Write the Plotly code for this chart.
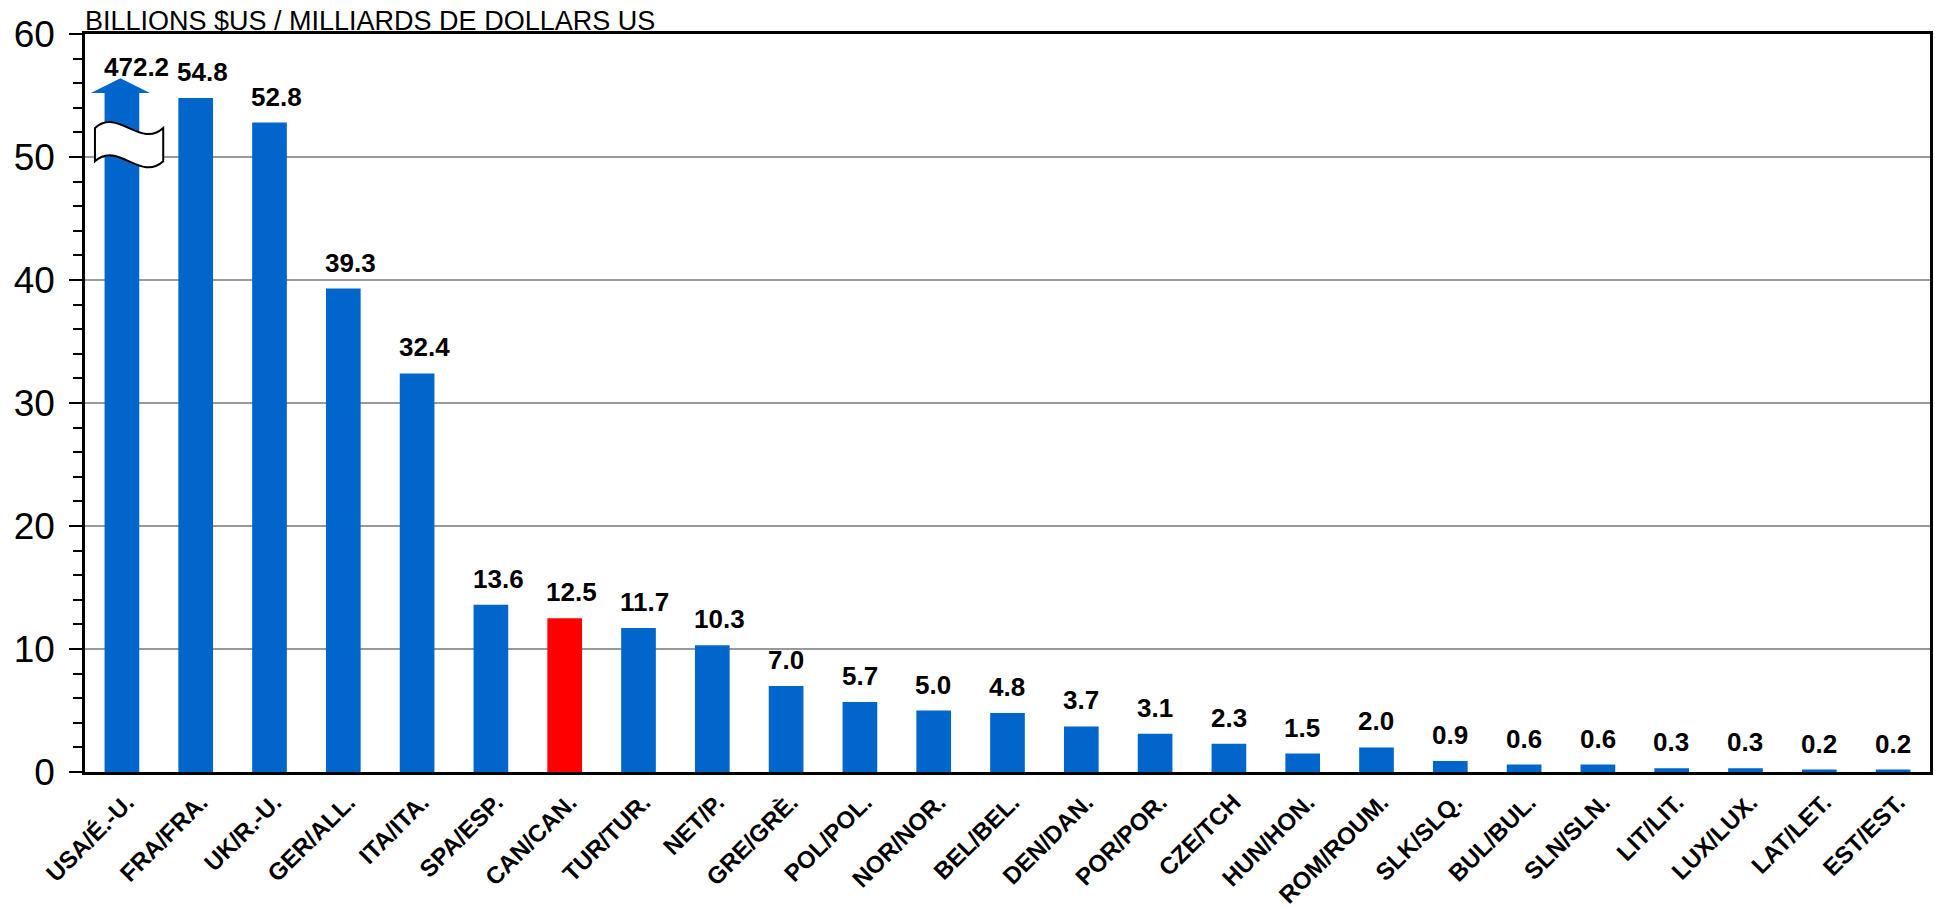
import plotly.graph_objects as go

# Country labels and values (billions of US dollars)
countries = ["USA/É.-U.", "FRA/FRA.", "UK/R.-U.", "GER/ALL.", "ITA/ITA.", "SPA/ESP.",
             "CAN/CAN.", "TUR/TUR.", "NET/P.", "GRE/GRÈ.", "POL/POL.", "NOR/NOR.",
             "BEL/BEL.", "DEN/DAN.", "POR/POR.", "CZE/TCH", "HUN/HON.", "ROM/ROUM.",
             "SLK/SLQ.", "BUL/BUL.", "SLN/SLN.", "LIT/LIT.", "LUX/LUX.", "LAT/LET.",
             "EST/EST."]
values = [472.2, 54.8, 52.8, 39.3, 32.4, 13.6, 12.5, 11.7, 10.3, 7.0, 5.7, 5.0,
          4.8, 3.7, 3.1, 2.3, 1.5, 2.0, 0.9, 0.6, 0.6, 0.3, 0.3, 0.2, 0.2]
highlight = "CAN/CAN."
y_ticks = [0, 10, 20, 30, 40, 50, 60]

AXIS_MAX = 60
CAP = 55.2          # where an off-scale bar is cut
ARROW_TIP = 56.4    # tip of the arrow drawn on an off-scale bar

BLUE = '#0066CC'
RED = '#FF0000'
FONT = 'Liberation Sans, Arial, sans-serif'
BARGAP = 0.53

x = list(range(len(countries)))
shown = [min(v, CAP) for v in values]
colors = [RED if c == highlight else BLUE for c in countries]
half = (1 - BARGAP) / 2

fig = go.Figure()

fig.add_trace(go.Bar(
    x=x,
    y=shown,
    marker=dict(color=colors, line=dict(width=0)),
    hoverinfo='skip',
))

# value labels above the bars, lined up with the bar's left edge
for i, v in enumerate(values):
    fig.add_annotation(
        x=i - half, y=shown[i], text=f"{v:.1f}", showarrow=False,
        xanchor='left', yanchor='middle', yshift=26, xshift=-3,
        font=dict(family=FONT, size=26, color='black', weight='bold'),
    )

# arrow head + break symbol on bars that run off the scale
for i, v in enumerate(values):
    if v <= CAP:
        continue
    fig.add_shape(
        type='path', xref='x', yref='y',
        path=f"M {i-0.42},{CAP} L {i+0.38},{CAP} L {i-0.02},{ARROW_TIP} Z",
        fillcolor=BLUE, line=dict(width=0), layer='above',
    )
    x0, x1 = i - 0.365, i + 0.56
    yt, yb, a = 52.35, 49.65, 1.7
    w = x1 - x0
    path = (f"M {x0},{yt} "
            f"C {x0 + w/3},{yt + a} {x0 + 2*w/3},{yt - a} {x1},{yt} "
            f"L {x1},{yb} "
            f"C {x0 + 2*w/3},{yb - a} {x0 + w/3},{yb + a} {x0},{yb} Z")
    fig.add_shape(
        type='path', xref='x', yref='y', path=path,
        fillcolor='white', line=dict(color='black', width=2), layer='above',
    )

fig.add_annotation(
    xref='paper', yref='paper', x=0, y=1, xanchor='left', yanchor='bottom',
    text="BILLIONS $US / MILLIARDS DE DOLLARS US", showarrow=False,
    font=dict(family=FONT, size=27, color='black'), xshift=-2, yshift=-4,
)

fig.update_layout(
    width=1935,
    height=907,
    plot_bgcolor='white',
    paper_bgcolor='white',
    bargap=BARGAP,
    showlegend=False,
    margin=dict(l=85, r=5, t=34, b=135),
)

fig.update_xaxes(
    range=[-0.5, len(countries) - 0.5],
    tickmode='array', tickvals=x, ticktext=countries,
    tickangle=-45,
    tickfont=dict(family=FONT, size=24, color='black', weight='bold'),
    ticks='', ticklabelstandoff=4, ticklabelshift=5,
    automargin=False,
    showline=True, linecolor='black', linewidth=2.5, mirror=True,
    showgrid=False, zeroline=False,
)

fig.update_yaxes(
    range=[0, AXIS_MAX],
    tickmode='array', tickvals=y_ticks,
    tickfont=dict(family=FONT, size=37, color='black'),
    ticks='outside', ticklen=13, tickwidth=2, tickcolor='black',
    ticklabelstandoff=7, automargin=False,
    minor=dict(dtick=2, ticks='outside', ticklen=9, tickwidth=2,
               tickcolor='black', showgrid=False),
    showline=True, linecolor='black', linewidth=2.5, mirror=True,
    showgrid=True, gridcolor='#999999', gridwidth=2,
    zeroline=False,
)

fig.write_html("out.html", config={'displayModeBar': False},
               post_script="document.body.style.margin = '0';")
